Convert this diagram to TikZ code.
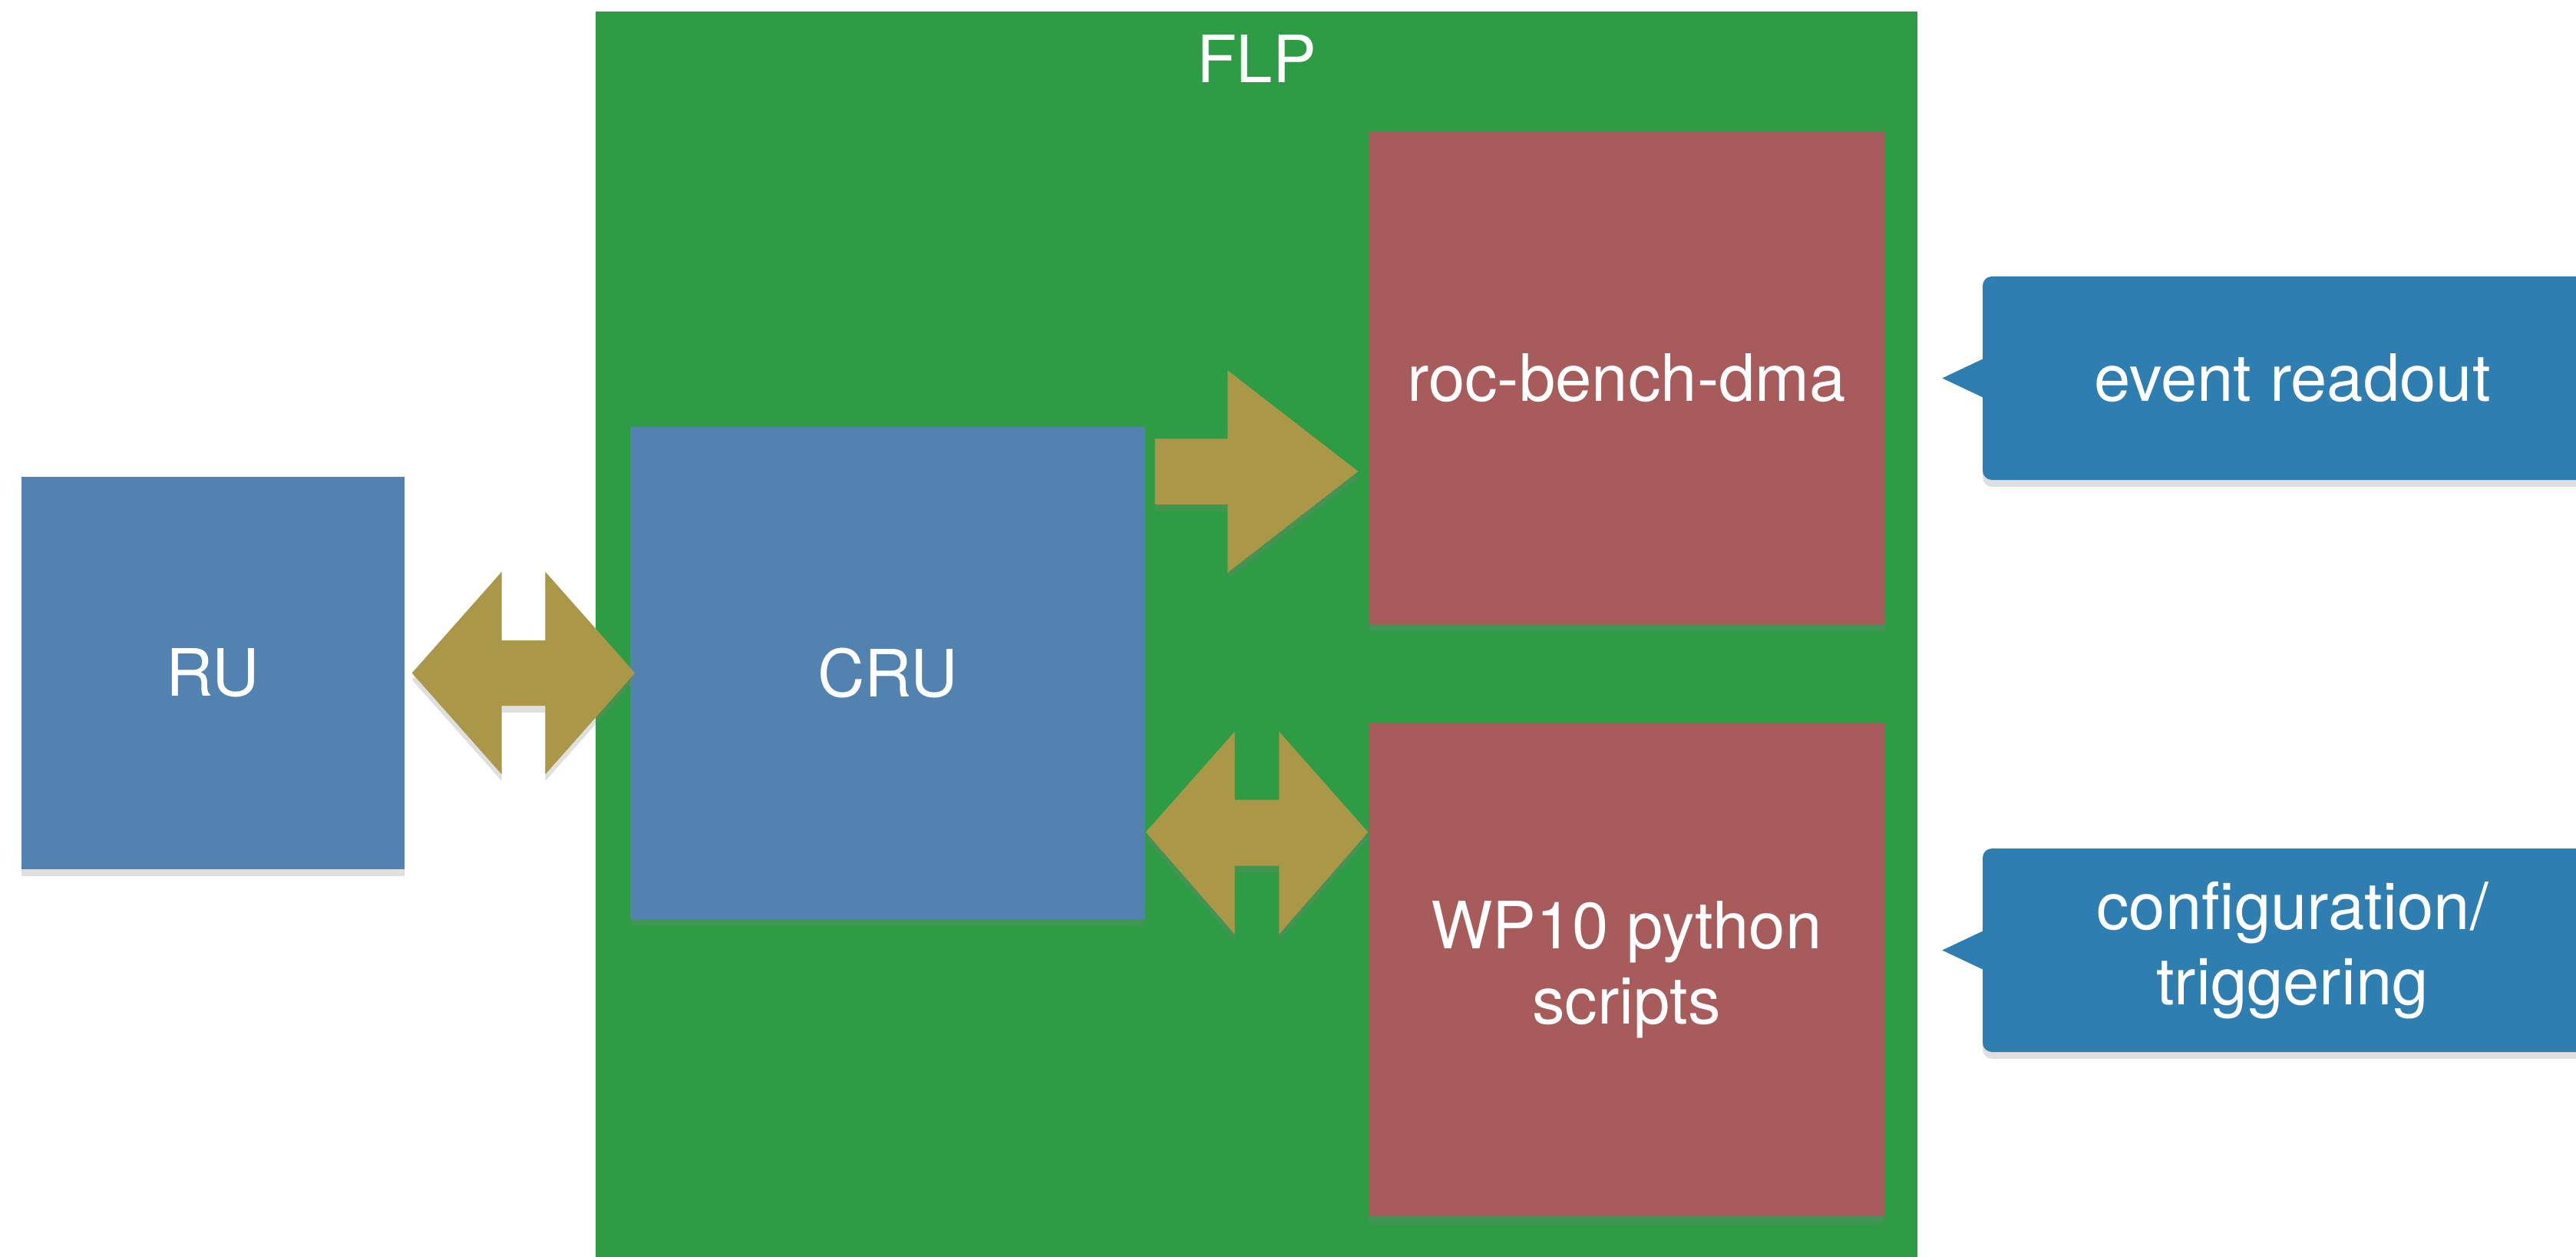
\documentclass[tikz,border=0pt]{standalone}
\usepackage{fontspec}
\setmainfont{TeX Gyre Heros}
\usetikzlibrary{calc,shadows}

\definecolor{flpgreen}{RGB}{46,155,69}
\definecolor{hwblue}{RGB}{82,130,176}
\definecolor{swred}{RGB}{168,91,91}
\definecolor{pipeolive}{RGB}{170,152,72}
\definecolor{noteblue}{RGB}{47,126,177}

\newcommand{\bigtxt}{\fontsize{24.2}{28}\selectfont}

\tikzset{
	softshadow/.style={drop shadow={opacity=0.25,shadow xshift=0pt,shadow yshift=-2.5pt}},
	flpbox/.style={rectangle,fill=flpgreen,inner sep=0pt,softshadow},
	box/.style={rectangle,inner sep=0pt,text=white,font=\bigtxt,align=center,softshadow},
	notebox/.style={box,fill=noteblue,rounded corners=0.12cm},
	fatarrow/.style={fill=pipeolive,softshadow},
	txt/.style={text=white,font=\bigtxt,inner sep=0pt}
}

\begin{document}
\begin{tikzpicture}[x=1cm,y=-1cm]
	\useasboundingbox (0,0) rectangle (33.56,16.37);
	\clip (0,0) rectangle (33.56,16.37);

	%FLP frame
	\node[flpbox,minimum width=17.22cm,minimum height=16.45cm] (flp) at (16.37,8.375) {};
		\node[txt] (flplbl) at ($(flp.north)+(0,0.62)$) {FLP};

	%boxes
	\node[box,fill=hwblue,minimum width=4.99cm,minimum height=5.11cm] (ru) at (2.775,8.765) {RU};
	\node[box,fill=hwblue,minimum width=6.71cm,minimum height=6.41cm] (cru) at (11.565,8.765) {CRU};
	\node[box,fill=swred,minimum width=6.72cm,minimum height=6.42cm] (roc) at (21.19,4.92) {roc-bench-dma};
	\node[box,fill=swred,minimum width=6.72cm,minimum height=6.42cm] (wp) at (21.19,12.63) {WP10 python\\scripts};

	%arrow tips
	\coordinate (ruTip) at ($(ru.east)+(0.09,0)$);
	\coordinate (cruTip) at ($(cru.west)+(0.07,0)$);
	\coordinate (cruLow) at ($(cru.south east)+(0,-1.14)$);
	\coordinate (wpTip) at (wp.west |- cruLow);
	\coordinate (oneTail) at ($(cru.north east)+(0.12,0.585)$);
	\coordinate (oneTip) at ($(roc.west |- oneTail)+(-0.13,0)$);

	%RU <-> CRU
	\fill[fatarrow] (ruTip) -- ++(1.17,-1.32) -- ++(0,0.895) -- ($(cruTip)+(-1.17,-0.425)$) -- ++(0,-0.895)
		-- (cruTip) -- ++(-1.17,1.32) -- ++(0,-0.895) -- ($(ruTip)+(1.17,0.425)$) -- ++(0,0.895) -- cycle;
	%CRU -> roc-bench-dma
	\fill[fatarrow] ($(oneTail)+(0,-0.425)$) -- ($(oneTip)+(-1.70,-0.425)$) -- ++(0,-0.89)
		-- (oneTip) -- ($(oneTip)+(-1.70,1.32)$) -- ++(0,-0.89) -- ($(oneTail)+(0,0.43)$) -- cycle;
	%CRU <-> WP10
	\fill[fatarrow] (cruLow) -- ++(1.16,-1.31) -- ++(0,0.89) -- ($(wpTip)+(-1.16,-0.42)$) -- ++(0,-0.89)
		-- (wpTip) -- ++(-1.16,1.33) -- ++(0,-0.89) -- ($(cruLow)+(1.16,0.44)$) -- ++(0,0.89) -- cycle;

	%notes
	\node[notebox,minimum width=8.07cm,minimum height=2.65cm] (readout) at (29.865,4.925) {event readout};
	\node[notebox,minimum width=8.07cm,minimum height=2.65cm] (config) at (29.865,12.375) {configuration/\\triggering};
		\fill[noteblue] ($(readout.west)+(0.03,-0.26)$) -- ($(readout.west)+(-0.52,0)$) -- ($(readout.west)+(0.03,0.26)$) -- cycle;
		\fill[noteblue] ($(config.west)+(0.03,-0.26)$) -- ($(config.west)+(-0.52,0)$) -- ($(config.west)+(0.03,0.26)$) -- cycle;
\end{tikzpicture}
\end{document}
